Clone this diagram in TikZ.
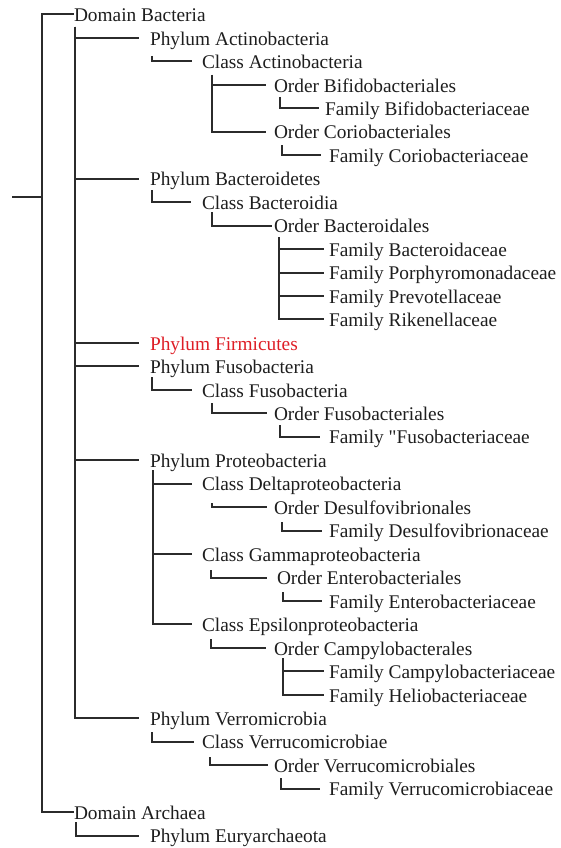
\documentclass[tikz,border=0pt]{standalone}
\usepackage{fontspec}
\setmainfont{Liberation Serif}
\newfontfamily\qfont{Liberation Serif}[Ligatures=TeXOff]
\definecolor{txt}{HTML}{1E1E1E}
\definecolor{lc}{HTML}{2B2B2B}
\definecolor{redt}{RGB}{222,30,38}
\newcommand\rowy[1]{21.7+23.46*#1}
\tikzset{
  lbl/.style={anchor=base west, inner sep=0pt, outer sep=0pt, text=txt, font=\fontsize{19.35}{22}\selectfont},
  conn/.style={draw=lc, line width=2pt},
}
\begin{document}
\begin{tikzpicture}[x=1pt,y=-1pt]
\useasboundingbox (0,0) rectangle (561,848);
% nodes
\node[lbl] (n0) at (74,{\rowy{0}}) {Domain Bacteria};
\node[lbl] (n1) at (150,{\rowy{1}}) {Phylum Actinobacteria};
\node[lbl] (n2) at (202,{\rowy{2}}) {Class Actinobacteria};
\node[lbl] (n3) at (274,{\rowy{3}}) {Order Bifidobacteriales};
\node[lbl] (n4) at (325,{\rowy{4}}) {Family Bifidobacteriaceae};
\node[lbl] (n5) at (274,{\rowy{5}}) {Order Coriobacteriales};
\node[lbl] (n6) at (329,{\rowy{6}}) {Family Coriobacteriaceae};
\node[lbl] (n7) at (150,{\rowy{7}}) {Phylum Bacteroidetes};
\node[lbl] (n8) at (202,{\rowy{8}}) {Class Bacteroidia};
\node[lbl] (n9) at (274,{\rowy{9}}) {Order Bacteroidales};
\node[lbl] (n10) at (329,{\rowy{10}}) {Family Bacteroidaceae};
\node[lbl] (n11) at (329,{\rowy{11}}) {Family Porphyromonadaceae};
\node[lbl] (n12) at (329,{\rowy{12}}) {Family Prevotellaceae};
\node[lbl] (n13) at (329,{\rowy{13}}) {Family Rikenellaceae};
\node[lbl,text=redt] (n14) at (150,{\rowy{14}}) {Phylum Firmicutes};
\node[lbl] (n15) at (150,{\rowy{15}}) {Phylum Fusobacteria};
\node[lbl] (n16) at (202,{\rowy{16}}) {Class Fusobacteria};
\node[lbl] (n17) at (274,{\rowy{17}}) {Order Fusobacteriales};
\node[lbl] (n18) at (329,{\rowy{18}}) {Family {\qfont\symbol{34}}Fusobacteriaceae};
\node[lbl] (n19) at (150,{\rowy{19}}) {Phylum Proteobacteria};
\node[lbl] (n20) at (202,{\rowy{20}}) {Class Deltaproteobacteria};
\node[lbl] (n21) at (274,{\rowy{21}}) {Order Desulfovibrionales};
\node[lbl] (n22) at (329,{\rowy{22}}) {Family Desulfovibrionaceae};
\node[lbl] (n23) at (202,{\rowy{23}}) {Class Gammaproteobacteria};
\node[lbl] (n24) at (277,{\rowy{24}}) {Order Enterobacteriales};
\node[lbl] (n25) at (329,{\rowy{25}}) {Family Enterobacteriaceae};
\node[lbl] (n26) at (202,{\rowy{26}}) {Class Epsilonproteobacteria};
\node[lbl] (n27) at (274,{\rowy{27}}) {Order Campylobacterales};
\node[lbl] (n28) at (329,{\rowy{28}}) {Family Campylobacteriaceae};
\node[lbl] (n29) at (329,{\rowy{29}}) {Family Heliobacteriaceae};
\node[lbl] (n30) at (150,{\rowy{30}}) {Phylum Verromicrobia};
\node[lbl] (n31) at (202,{\rowy{31}}) {Class Verrucomicrobiae};
\node[lbl] (n32) at (274,{\rowy{32}}) {Order Verrucomicrobiales};
\node[lbl] (n33) at (329,{\rowy{33}}) {Family Verrucomicrobiaceae};
\node[lbl] (n34) at (74,{\rowy{34}}) {Domain Archaea};
\node[lbl] (n35) at (150,{\rowy{35}}) {Phylum Euryarchaeota};
% branch points
\coordinate (stub) at (12,197);
\coordinate (root) at (42,197);
\coordinate (tP) at (75,27);
\coordinate (t2) at (152,56);
\coordinate (t3) at (212,75);
\coordinate (t4) at (280,97);
\coordinate (t6) at (282,145);
\coordinate (t8) at (152,190);
\coordinate (t9) at (212,212);
\coordinate (t10) at (279,237);
\coordinate (t16) at (152,377);
\coordinate (t17) at (212,403);
\coordinate (t18) at (280,425);
\coordinate (t20) at (153,470);
\coordinate (t21) at (212,503);
\coordinate (t22) at (282,522);
\coordinate (t24) at (211,570);
\coordinate (t25) at (283,592);
\coordinate (t27) at (211,639);
\coordinate (t28) at (283,658);
\coordinate (t31) at (152,732);
\coordinate (t32) at (210,757);
\coordinate (t33) at (281,778);
\coordinate (t35) at (76,822);
% connectors
\draw[conn] (stub) -- (root);
\draw[conn] (root) |- ([yshift=7.2pt]n0.base west);
\draw[conn] (root) |- ([yshift=7.2pt]n34.base west);
\foreach \n in {n1,n7,n14,n15,n19,n30}
  \draw[conn] (tP) |- ([xshift=-11pt,yshift=7.2pt]\n.base west);
\draw[conn] (t2) |- ([xshift=-10pt,yshift=7.2pt]n2.base west);
\draw[conn] (t3) |- ([xshift=-8pt,yshift=7.2pt]n3.base west);
\draw[conn] (t3) |- ([xshift=-8pt,yshift=7.2pt]n5.base west);
\draw[conn] (t4) |- ([xshift=-6pt,yshift=7.2pt]n4.base west);
\draw[conn] (t6) |- ([xshift=-8pt,yshift=7.2pt]n6.base west);
\draw[conn] (t8) |- ([xshift=-11pt,yshift=7.2pt]n8.base west);
\draw[conn] (t9) |- ([xshift=-2pt,yshift=7.2pt]n9.base west);
\foreach \n in {n10,n11,n12,n13}
  \draw[conn] (t10) |- ([xshift=-5pt,yshift=7.2pt]\n.base west);
\draw[conn] (t16) |- ([xshift=-10pt,yshift=7.2pt]n16.base west);
\draw[conn] (t17) |- ([xshift=-7pt,yshift=7.2pt]n17.base west);
\draw[conn] (t18) |- ([xshift=-9pt,yshift=7.2pt]n18.base west);
\foreach \n in {n20,n23,n26}
  \draw[conn] (t20) |- ([xshift=-10pt,yshift=7.2pt]\n.base west);
\draw[conn] (t21) |- ([xshift=-7pt,yshift=7.2pt]n21.base west);
\draw[conn] (t22) |- ([xshift=-7pt,yshift=7.2pt]n22.base west);
\draw[conn] (t24) |- ([xshift=-10pt,yshift=7.2pt]n24.base west);
\draw[conn] (t25) |- ([xshift=-7pt,yshift=7.2pt]n25.base west);
\draw[conn] (t27) |- ([xshift=-8pt,yshift=7.2pt]n27.base west);
\draw[conn] (t28) |- ([xshift=-5pt,yshift=7.2pt]n28.base west);
\draw[conn] (t28) |- ([xshift=-5pt,yshift=7.2pt]n29.base west);
\draw[conn] (t31) |- ([xshift=-8pt,yshift=7.2pt]n31.base west);
\draw[conn] (t32) |- ([xshift=-6pt,yshift=7.2pt]n32.base west);
\draw[conn] (t33) |- ([xshift=-9pt,yshift=7.2pt]n33.base west);
\draw[conn] (t35) |- ([xshift=-11pt,yshift=7.2pt]n35.base west);
\end{tikzpicture}
\end{document}
